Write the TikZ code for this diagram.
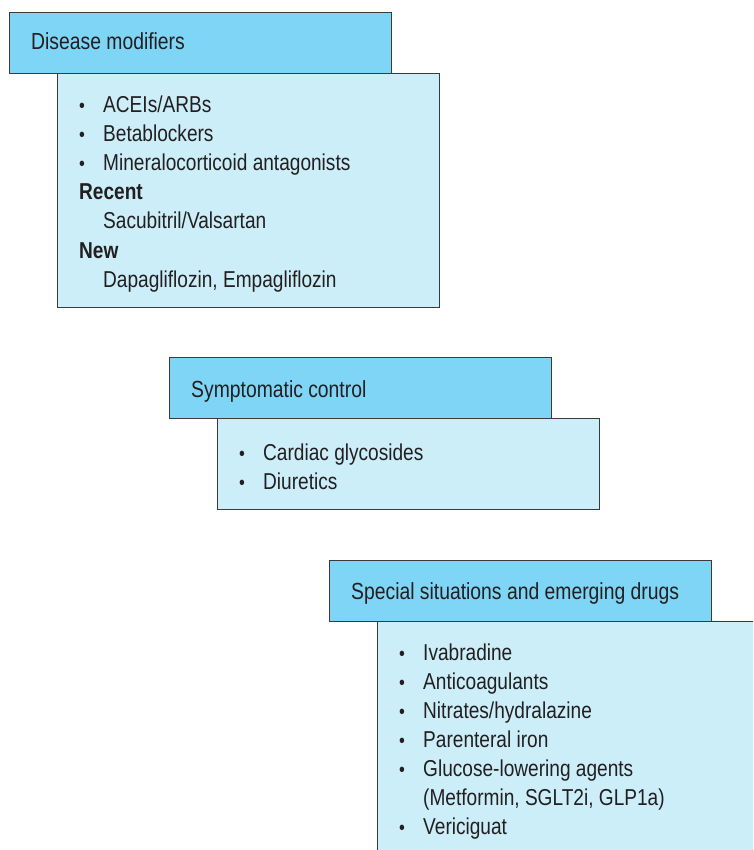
\documentclass[tikz,border=0pt]{standalone}
\usepackage{fontspec}
\setmainfont{Liberation Sans}[FakeStretch=0.83]
\definecolor{headblue}{HTML}{7ED5F6}
\definecolor{bodyblue}{HTML}{CCEEF9}
\definecolor{edgegray}{HTML}{3A3A3A}
\definecolor{inkgray}{HTML}{231F20}
\tikzset{
  head/.style={draw=edgegray, line width=1.3pt, fill=headblue, anchor=north west,
    minimum width=382pt, minimum height=61pt, inner sep=0pt},
  body/.style={draw=edgegray, line width=1.3pt, fill=bodyblue, anchor=north west, inner sep=0pt},
  txt/.style={anchor=base west, inner sep=0pt, text=inkgray, font=\fontsize{23}{28}\selectfont},
  htxt/.style={txt, font=\fontsize{23.3}{28}\selectfont},
  dot/.style={anchor=base, inner sep=0pt, text=inkgray, font=\fontsize{20}{20}\selectfont}
}
\begin{document}
\begin{tikzpicture}[x=1pt,y=-1pt]
\useasboundingbox (0,0) rectangle (753,850);
\clip (0,0) rectangle (753,850);
\fill[white] (0,0) rectangle (753,850);
% disease modifiers
\node[body, minimum width=382pt, minimum height=234pt] (dm-body) at (57,73) {};
\node[head] (dm-head) at (9,12) {};
\node[htxt] (dm-title) at (31,50) {Disease modifiers};
\foreach \t [count=\i] in {ACEIs/ARBs, Betablockers, Mineralocorticoid antagonists}{
  \node[dot] (dm-dot\i) at (82,84+29*\i) {•};
  \node[txt] (dm-item\i) at (103,84+29*\i) {\t};
}
\node[txt] (dm-recent) at (79,200) {\bfseries Recent};
\node[txt] (dm-sacval) at (103,229) {Sacubitril/Valsartan};
\node[txt] (dm-new) at (79,258) {\bfseries New};
\node[txt] (dm-sglt) at (103,287) {Dapagliflozin, Empagliflozin};
% symptomatic control
\node[body, minimum width=382pt, minimum height=91pt] (sc-body) at (217,418) {};
\node[head] (sc-head) at (169,357) {};
\node[htxt] (sc-title) at (191,397) {Symptomatic control};
\foreach \t [count=\i] in {Cardiac glycosides, Diuretics}{
  \node[dot] (sc-dot\i) at (242,431+29*\i) {•};
  \node[txt] (sc-item\i) at (263,431+29*\i) {\t};
}
% special situations
\node[body, minimum width=400pt, minimum height=260pt] (ss-body) at (377,621) {};
\node[head] (ss-head) at (329,560) {};
\node[htxt] (ss-title) at (351,599) {Special situations and emerging drugs};
\foreach \t [count=\i] in {Ivabradine, Anticoagulants, Nitrates/hydralazine, Parenteral iron, Glucose-lowering agents}{
  \node[dot] (ss-dot\i) at (402,631+29*\i) {•};
  \node[txt] (ss-item\i) at (423,631+29*\i) {\t};
}
\node[txt] (ss-glp) at (423,805) {(Metformin, SGLT2i, GLP1a)};
\node[dot] (ss-dot6) at (402,834) {•};
\node[txt] (ss-vericiguat) at (423,834) {Vericiguat};
\end{tikzpicture}
\end{document}
